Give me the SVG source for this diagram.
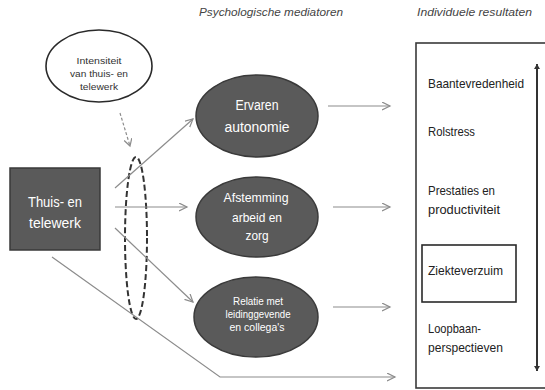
<svg xmlns="http://www.w3.org/2000/svg" width="545" height="390" viewBox="0 0 545 390">
<defs>
<marker id="open" markerWidth="10" markerHeight="10" refX="8" refY="4" orient="auto" markerUnits="userSpaceOnUse"><path d="M0,0 L8,4 L0,8" fill="none" stroke="#8c8c8c" stroke-width="1.2"/></marker>
<marker id="openDash" markerWidth="10" markerHeight="10" refX="7" refY="4" orient="auto" markerUnits="userSpaceOnUse"><path d="M0,0 L7,4 L0,8" fill="none" stroke="#8c8c8c" stroke-width="1.2"/></marker>
<marker id="solidEnd" markerWidth="10" markerHeight="10" refX="5" refY="5" orient="auto" markerUnits="userSpaceOnUse"><path d="M0,2 L5,5 L0,8 Z" fill="#333"/></marker>
<marker id="solidStart" markerWidth="10" markerHeight="10" refX="0" refY="5" orient="auto" markerUnits="userSpaceOnUse"><path d="M5,2 L0,5 L5,8 Z" fill="#333"/></marker>
</defs>
<style>
text{font-family:"Liberation Sans",Arial,sans-serif}
.hdr{font-size:11px;font-style:italic;fill:#444}
.node{fill:#5a5a5a;stroke:#3a3a3a;stroke-width:1.5}
.wt{fill:#fff;text-anchor:middle}
.bt{fill:#222;font-size:13px}
.conn{fill:none;stroke:#8c8c8c;stroke-width:1.2}
</style>
<rect width="545" height="390" fill="#fff"/>

<text class="hdr" x="199" y="16" textLength="144" lengthAdjust="spacingAndGlyphs">Psychologische mediatoren</text>
<text class="hdr" x="417" y="16" textLength="115" lengthAdjust="spacingAndGlyphs">Individuele resultaten</text>

<g id="intensiteit">
<ellipse cx="99" cy="66" rx="53" ry="36" fill="#fff" stroke="#2a2a2a" stroke-width="1.6"/>
<text x="99" y="64" font-size="9.5" fill="#333" text-anchor="middle" textLength="45" lengthAdjust="spacingAndGlyphs">Intensiteit</text>
<text x="99" y="77" font-size="9.5" fill="#333" text-anchor="middle" textLength="58" lengthAdjust="spacingAndGlyphs">van thuis- en</text>
<text x="99" y="90" font-size="9.5" fill="#333" text-anchor="middle" textLength="38" lengthAdjust="spacingAndGlyphs">telewerk</text>
</g>

<g id="moderator">
<ellipse cx="136" cy="238" rx="11" ry="81" fill="none" stroke="#333" stroke-width="2" stroke-dasharray="6,3"/>
</g>

<g id="thuis">
<rect x="10" y="168" width="90" height="82" class="node"/>
<text class="wt" x="55" y="207" font-size="14" textLength="54" lengthAdjust="spacingAndGlyphs">Thuis- en</text>
<text class="wt" x="55" y="228" font-size="14" textLength="52" lengthAdjust="spacingAndGlyphs">telewerk</text>
</g>

<g id="ervaren">
<ellipse cx="257" cy="116" rx="61" ry="41" class="node"/>
<text class="wt" x="257" y="110" font-size="14" textLength="43" lengthAdjust="spacingAndGlyphs">Ervaren</text>
<text class="wt" x="257" y="132" font-size="14" textLength="65" lengthAdjust="spacingAndGlyphs">autonomie</text>
</g>

<g id="afstemming">
<ellipse cx="257" cy="217" rx="61" ry="40" class="node"/>
<text class="wt" x="256" y="202" font-size="13" textLength="65" lengthAdjust="spacingAndGlyphs">Afstemming</text>
<text class="wt" x="257" y="222" font-size="13" textLength="50" lengthAdjust="spacingAndGlyphs">arbeid en</text>
<text class="wt" x="257" y="240" font-size="13" textLength="23" lengthAdjust="spacingAndGlyphs">zorg</text>
</g>

<g id="relatie">
<ellipse cx="256" cy="317" rx="62" ry="40" class="node"/>
<text class="wt" x="258" y="305" font-size="10" textLength="50" lengthAdjust="spacingAndGlyphs">Relatie met</text>
<text class="wt" x="258" y="318" font-size="10" textLength="65" lengthAdjust="spacingAndGlyphs">leidinggevende</text>
<text class="wt" x="257" y="331" font-size="10" textLength="55" lengthAdjust="spacingAndGlyphs">en collega's</text>
</g>

<g id="resultaten">
<rect x="416" y="43" width="140" height="345" fill="none" stroke="#3a3a3a" stroke-width="1.6"/>
<text class="bt" x="428" y="88" textLength="96" lengthAdjust="spacingAndGlyphs">Baantevredenheid</text>
<text class="bt" x="428" y="136" textLength="47" lengthAdjust="spacingAndGlyphs">Rolstress</text>
<text class="bt" x="428" y="195" textLength="67" lengthAdjust="spacingAndGlyphs">Prestaties en</text>
<text class="bt" x="428" y="214" textLength="72" lengthAdjust="spacingAndGlyphs">productiviteit</text>
<text class="bt" x="428" y="333" textLength="53" lengthAdjust="spacingAndGlyphs">Loopbaan-</text>
<text class="bt" x="428" y="352" textLength="75" lengthAdjust="spacingAndGlyphs">perspectieven</text>
<line x1="537" y1="64" x2="537" y2="371" stroke="#333" stroke-width="2" marker-start="url(#solidStart)" marker-end="url(#solidEnd)"/>
</g>

<g id="ziekteverzuim">
<rect x="422" y="245" width="94" height="57" fill="none" stroke="#2a2a2a" stroke-width="1.6"/>
<text class="bt" x="428" y="275" textLength="75" lengthAdjust="spacingAndGlyphs">Ziekteverzuim</text>
</g>

<g id="connectors">
<line x1="120" y1="113" x2="130" y2="146" class="conn" stroke-dasharray="3,2" marker-end="url(#openDash)"/>
<line x1="115" y1="188" x2="193" y2="119" class="conn" marker-end="url(#open)"/>
<line x1="115" y1="207" x2="187" y2="207" class="conn" marker-end="url(#open)"/>
<line x1="115" y1="228" x2="193" y2="302" class="conn" marker-end="url(#open)"/>
<polyline points="52,257 220,377 395,377" class="conn" marker-end="url(#open)"/>
<line x1="328" y1="106" x2="390" y2="106" class="conn" marker-end="url(#open)"/>
<line x1="333" y1="207" x2="390" y2="207" class="conn" marker-end="url(#open)"/>
<line x1="333" y1="307" x2="390" y2="307" class="conn" marker-end="url(#open)"/>
</g>
</svg>
